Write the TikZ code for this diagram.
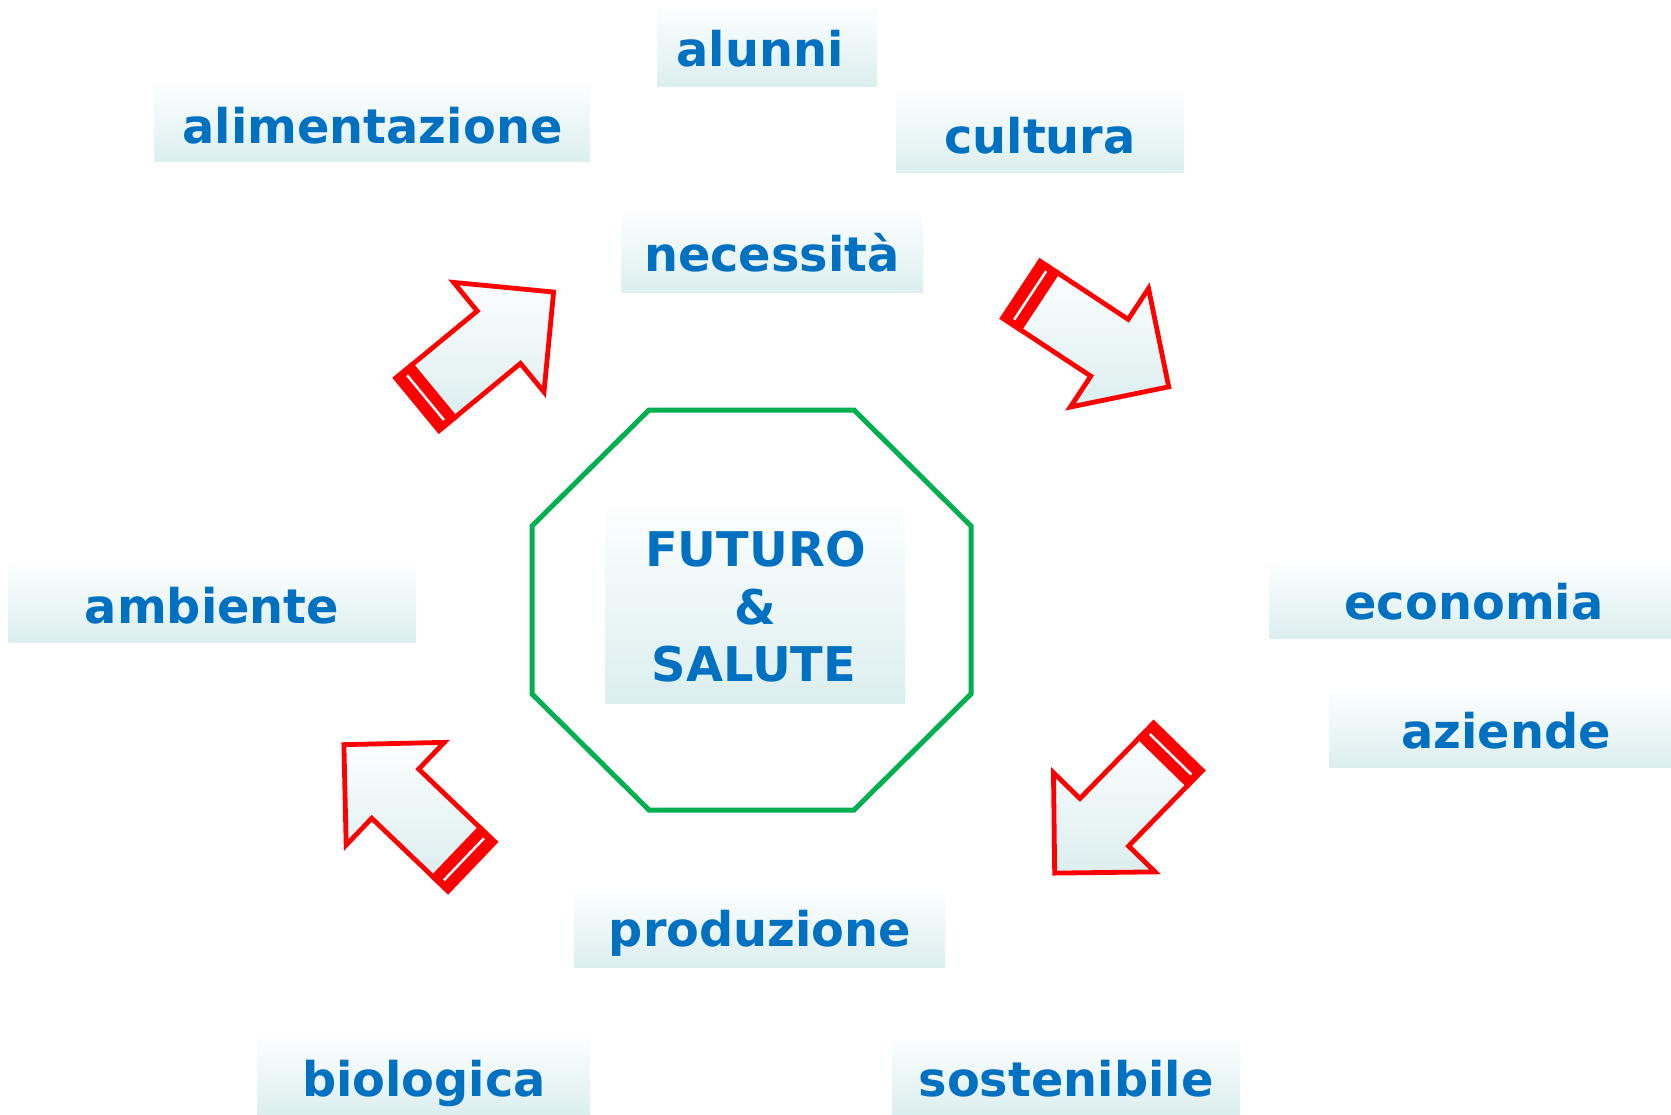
\documentclass[tikz,border=0pt]{standalone}
\usepackage{fontspec}
\setmainfont{DejaVu Sans}
\definecolor{txtblue}{HTML}{0070C0}
\definecolor{boxbot}{HTML}{DCEEEF}
\definecolor{boxtop}{HTML}{FCFEFE}
\definecolor{octgreen}{HTML}{00B050}
\definecolor{arrred}{HTML}{FF0000}
\tikzset{
  labelbox/.style={top color=boxtop,bottom color=boxbot,draw=none,inner sep=0pt},
  lbl/.style={text=txtblue,font=\fontsize{47.8}{57}\selectfont\bfseries,anchor=base,inner sep=0pt},
  pics/bigarrow/.style={code={
    \fill[arrred] (0,-36.5) rectangle (25,36.5);
    \draw[arrred,line width=4.8,line join=miter,top color=boxtop,bottom color=boxbot]
      (23,-34) -- (108,-34) -- (108,-71) -- (179,0) -- (108,71) -- (108,34) -- (23,34) -- cycle;
    \draw[white,line width=2.5] (13,-29) -- (13,29);
  }}
}
\begin{document}
\begin{tikzpicture}[x=1pt,y=-1pt]
\fill[white] (0,0) rectangle (1671,1115);
\useasboundingbox (0,0) rectangle (1671,1115);

% label boxes
\node[labelbox,minimum width=220,minimum height=77.5] (balunni) at (767,47.3) {};
\node[labelbox,minimum width=435.5,minimum height=76] (balim) at (372.3,124) {};
\node[labelbox,minimum width=288,minimum height=79] (bcult) at (1040,133.5) {};
\node[labelbox,minimum width=302,minimum height=79] (bnec) at (772,253.5) {};
\node[labelbox,minimum width=407.5,minimum height=77] (bamb) at (212.3,603.5) {};
\node[labelbox,minimum width=402,minimum height=74] (becon) at (1470,601) {};
\node[labelbox,minimum width=342,minimum height=76] (bazi) at (1500,729) {};
\node[labelbox,minimum width=371,minimum height=76] (bprod) at (759.5,929) {};
\node[labelbox,minimum width=333,minimum height=77] (bbio) at (423.5,1076.5) {};
\node[labelbox,minimum width=348,minimum height=76] (bsost) at (1066,1077) {};

% octagon
\draw[octgreen,line width=5,line join=miter] (649,410) -- (854,410) -- (971,526) -- (971,694)
  -- (854,810) -- (649,810) -- (532,694) -- (532,526) -- cycle;
\node[labelbox,minimum width=300,minimum height=194] (bfut) at (755,606) {};

% texts
\node[lbl] (alunni) at (760,66.5) {alunni};
\node[lbl] (alim) at (372.5,143.5) {alimentazione};
\node[lbl] (cult) at (1040,154) {cultura};
\node[lbl] (nec) at (772,271.5) {necessità};
\node[lbl] (fut1) at (755.5,566.5) {FUTURO};
\node[lbl] (fut2) at (755,624) {\&};
\node[lbl] (fut3) at (754,681.5) {SALUTE};
\node[lbl] (amb) at (212,623) {ambiente};
\node[lbl] (econ) at (1474,619.5) {economia};
\node[lbl] (azi) at (1506,748.5) {aziende};
\node[lbl] (prod) at (760,946.5) {produzione};
\node[lbl] (bio) at (424,1096) {biologica};
\node[lbl] (sost) at (1066,1096) {sostenibile};

% arrows
\pic[rotate=39.5] (arrA) at (415.5,405.9) {bigarrow};
\pic[rotate=-33.4] (arrB) at (1019.3,288.3) {bigarrow};
\pic[rotate=-134.3] (arrC) at (1179.7,745) {bigarrow};
\pic[rotate=136.3] (arrD) at (473.3,868.3) {bigarrow};
\end{tikzpicture}
\end{document}
